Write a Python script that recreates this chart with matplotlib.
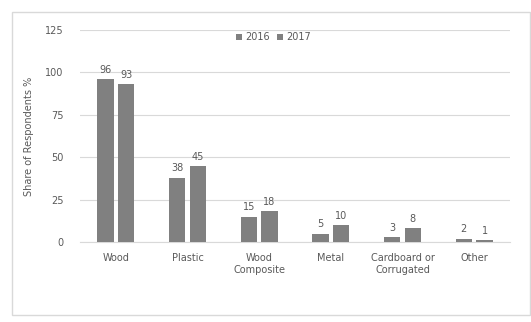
import matplotlib
matplotlib.use("Agg")
import matplotlib.pyplot as plt
import numpy as np
from matplotlib.patches import Rectangle

categories = ["Wood", "Plastic", "Wood\nComposite", "Metal", "Cardboard or\nCorrugated", "Other"]
series_names = ["2016", "2017"]
values_2016 = [96, 38, 15, 5, 3, 2]
values_2017 = [93, 45, 18, 10, 8, 1]
yticks = [0, 25, 50, 75, 100, 125]

txt = "#595959"
bar_color = "#808080"

fig = plt.figure(figsize=(5.31, 3.22), dpi=100)
fig.patches.append(Rectangle((12/531, 1-315/322), (530-12)/531, (315-12)/322,
                             transform=fig.transFigure, fill=False, edgecolor="#d9d9d9", lw=1))
ax = fig.add_axes([80/531, 1-242/322, 430/531, 212/322])

x = np.arange(len(categories))
w = 0.23
gap = 0.03
b1 = ax.bar(x - w/2 - gap, values_2016, w, color=bar_color, label=series_names[0], zorder=3)
b2 = ax.bar(x + w/2 + gap, values_2017, w, color=bar_color, label=series_names[1], zorder=3)
for bars in (b1, b2):
    for r in bars:
        ax.annotate(f"{int(r.get_height())}", (r.get_x() + r.get_width()/2, r.get_height()),
                    xytext=(0, 3), textcoords="offset points", ha="center", va="bottom",
                    fontsize=7, color=txt)

ax.set_ylim(0, 125)
ax.set_xlim(-0.5, len(categories) - 0.5)
ax.set_yticks(yticks)
ax.set_xticks(x)
ax.set_xticklabels(categories)
ax.tick_params(axis="both", length=0, labelsize=7, colors=txt)
ax.tick_params(axis="y", pad=12)
ax.tick_params(axis="x", pad=8)
ax.grid(axis="y", color="#d9d9d9", lw=0.8, zorder=0)
for s in ["top", "right", "left"]:
    ax.spines[s].set_visible(False)
ax.spines["bottom"].set_color("#d9d9d9")
ax.set_ylabel("Share of Respondents %", fontsize=7, color=txt, labelpad=8)
ax.legend(loc="upper center", bbox_to_anchor=(0.45, 1.03), ncol=2, frameon=False,
          fontsize=7, labelcolor=txt, handlelength=0.6, handleheight=0.6,
          columnspacing=0.8, handletextpad=0.3)

fig.savefig("out.png", dpi=100)
